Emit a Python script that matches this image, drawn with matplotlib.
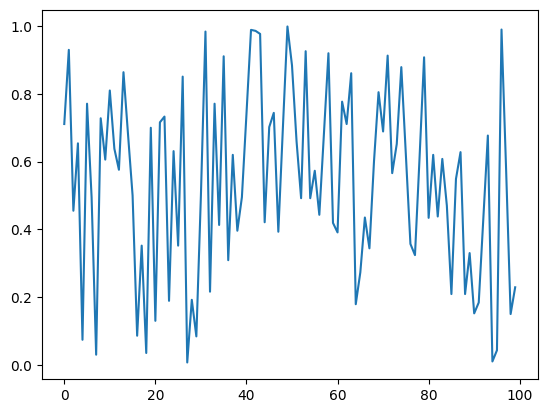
import numpy as np
import matplotlib
matplotlib.use("Agg")
import matplotlib.pyplot as plt

# values, index 0..99
values = [
    0.711, 0.930, 0.455, 0.654, 0.074, 0.771, 0.495, 0.030, 0.728, 0.606,
    0.810, 0.638, 0.576, 0.864, 0.680, 0.500, 0.086, 0.352, 0.035, 0.700,
    0.130, 0.716, 0.733, 0.189, 0.631, 0.352, 0.851, 0.007, 0.192, 0.084,
    0.500, 0.984, 0.216, 0.771, 0.413, 0.911, 0.309, 0.620, 0.396, 0.495,
    0.740, 0.989, 0.986, 0.977, 0.421, 0.702, 0.744, 0.393, 0.700, 0.999,
    0.884, 0.660, 0.492, 0.926, 0.492, 0.573, 0.443, 0.680, 0.920, 0.419,
    0.391, 0.777, 0.711, 0.861, 0.179, 0.273, 0.435, 0.344, 0.600, 0.805,
    0.689, 0.913, 0.566, 0.652, 0.879, 0.620, 0.357, 0.324, 0.610, 0.908,
    0.434, 0.620, 0.438, 0.608, 0.470, 0.209, 0.549, 0.628, 0.209, 0.330,
    0.152, 0.184, 0.430, 0.677, 0.010, 0.043, 0.990, 0.580, 0.150, 0.229,
]

fig, ax = plt.subplots(figsize=(6.4, 4.8), dpi=100)
ax.plot(values)
fig.savefig("out.png", dpi=100, bbox_inches="tight")
